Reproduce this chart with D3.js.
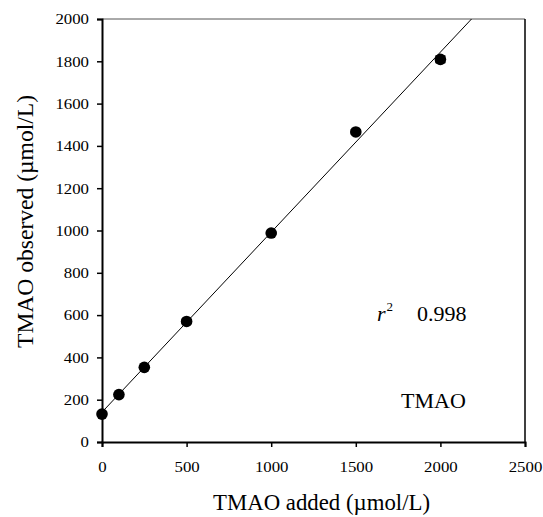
<!DOCTYPE html>
<html lang="en">
<head>
<meta charset="UTF-8">
<title>TMAO recovery</title>
<style>
  body { margin: 0; background: #fff; }
  svg text { fill: #000; font-family: "Liberation Serif", "Times New Roman", serif; }
</style>
</head>
<body>
<svg id="chart" width="543" height="517"></svg>
<script src="https://d3js.org/d3.v7.min.js"></script>
<script>
  const added = [0, 100, 250, 500, 1000, 1500, 2000];
  const observed = [132, 224, 353, 570, 988, 1466, 1809];
  const errors = [6, 6, 6, 6, 6, 10, 15];
  const xTicks = [0, 500, 1000, 1500, 2000, 2500];
  const yTicks = [0, 200, 400, 600, 800, 1000, 1200, 1400, 1600, 1800, 2000];
  const fitSlope = 0.8512;
  const fitIntercept = 141;

  const svg = d3.select("#chart");
  const plotL = 102, plotR = 525, plotT = 19, plotB = 442;
  const serif = "'Liberation Serif', 'Times New Roman', serif";

  const x = d3.scaleLinear().domain([0, 2500]).range([plotL, plotR]);
  const y = d3.scaleLinear().domain([0, 2000]).range([plotB, plotT]);

  // frame: top and right
  svg.append("line").attr("x1", plotL).attr("x2", plotR).attr("y1", plotT).attr("y2", plotT)
    .attr("stroke", "#555").attr("stroke-width", 1);
  svg.append("line").attr("x1", plotR).attr("x2", plotR).attr("y1", plotT).attr("y2", plotB)
    .attr("stroke", "#000").attr("stroke-width", 1.5);

  const xAxis = svg.append("g").attr("transform", `translate(0,${plotB})`)
    .call(d3.axisBottom(x).tickValues(xTicks).tickSize(5).tickFormat(d3.format("d")));
  const yAxis = svg.append("g").attr("transform", `translate(${plotL},0)`)
    .call(d3.axisLeft(y).tickValues(yTicks).tickSize(5).tickPadding(8).tickFormat(d3.format("d")));

  [xAxis, yAxis].forEach(g => {
    g.attr("font-family", null);
    g.select(".domain").attr("stroke", "#000").attr("stroke-width", 2);
    g.selectAll(".tick line").attr("stroke", "#000").attr("stroke-width", 1.5);
    g.selectAll("text")
      .style("font-family", serif).attr("font-size", 15).attr("fill", "#000")
      .attr("textLength", function () { return this.textContent.length * 8.4; })
      .attr("lengthAdjust", "spacingAndGlyphs");
  });
  xAxis.selectAll("text").attr("y", 30).attr("dy", 0);

  // regression line, clipped at the top of the plot
  const xEnd = Math.min(2500, (2000 - fitIntercept) / fitSlope);
  svg.append("line")
    .attr("x1", x(0)).attr("y1", y(fitIntercept))
    .attr("x2", x(xEnd)).attr("y2", y(fitIntercept + fitSlope * xEnd))
    .attr("stroke", "#000").attr("stroke-width", 1);

  // error bars
  const pts = added.map((a, i) => ({ a, o: observed[i], e: errors[i] }));
  const eb = svg.append("g").attr("stroke", "#000").attr("stroke-width", 1.5);
  pts.forEach(p => {
    eb.append("line").attr("x1", x(p.a)).attr("x2", x(p.a)).attr("y1", y(p.o - p.e)).attr("y2", y(p.o + p.e));
    [p.o - p.e, p.o + p.e].forEach(v => {
      eb.append("line").attr("x1", x(p.a) - 5).attr("x2", x(p.a) + 5).attr("y1", y(v)).attr("y2", y(v));
    });
  });

  svg.append("g").selectAll("circle").data(pts).join("circle")
    .attr("cx", d => x(d.a)).attr("cy", d => y(d.o)).attr("r", 5.8).attr("fill", "#000");

  // axis titles
  svg.append("text").attr("x", 321.5).attr("y", 510)
    .attr("text-anchor", "middle").attr("font-size", 23)
    .attr("textLength", 217).attr("lengthAdjust", "spacingAndGlyphs")
    .text("TMAO added (\u00b5mol/L)");
  svg.append("text").attr("transform", `translate(33,221.5) rotate(-90)`)
    .attr("text-anchor", "middle").attr("font-size", 23)
    .attr("textLength", 253).attr("lengthAdjust", "spacingAndGlyphs")
    .text("TMAO observed (\u00b5mol/L)");

  // annotations
  const r2 = svg.append("text").attr("x", 377).attr("y", 321).attr("font-size", 22);
  r2.append("tspan").attr("font-style", "italic").text("r");
  r2.append("tspan").attr("font-size", 13).attr("dx", 1).attr("dy", -10).text("2");
  svg.append("text").attr("x", 417).attr("y", 321).attr("font-size", 22).text("0.998");
  svg.append("text").attr("x", 401).attr("y", 408).attr("font-size", 22).text("TMAO");
</script>
</body>
</html>
